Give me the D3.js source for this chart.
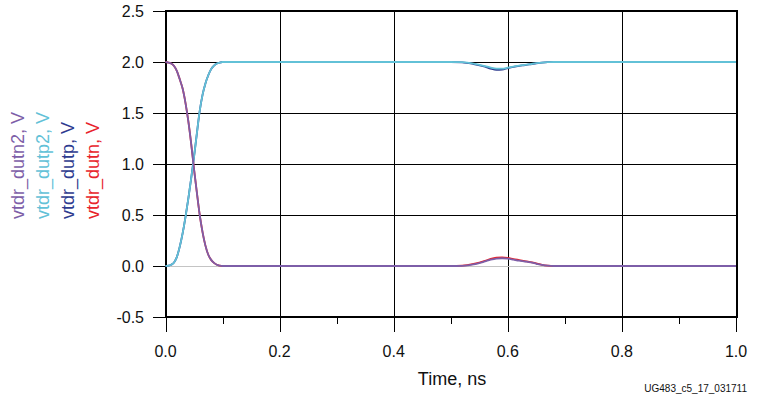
<!DOCTYPE html>
<html><head><meta charset="utf-8">
<script src="https://cdn.jsdelivr.net/npm/d3@7"></script>
<style>body{margin:0;background:#fff}svg{display:block;font-family:"Liberation Sans",Arial,Helvetica,sans-serif}</style>
</head><body><svg id="c" width="758" height="402"></svg>
<script>
const time = [0,0.005,0.01,0.015,0.02,0.025,0.03,0.035,0.04,0.045,0.05,0.055,0.06,0.065,0.07,0.075,0.08,0.085,0.09,0.095,0.1,0.15,0.2,0.3,0.4,0.5,0.52,0.54,0.56,0.57,0.58,0.59,0.6,0.61,0.62,0.63,0.64,0.65,0.66,0.67,0.68,0.7,0.8,0.9,1.0];
const vtdr_dutn2 = [2.0,1.995,1.985,1.96,1.91,1.83,1.74,1.6,1.42,1.2,0.95,0.72,0.5,0.33,0.2,0.11,0.06,0.03,0.012,0.004,0,0,0,0,0,0,0.002,0.015,0.045,0.062,0.073,0.076,0.072,0.062,0.052,0.044,0.035,0.022,0.01,0.003,0,0,0,0,0];
const vtdr_dutp2 = [0,0.003,0.012,0.035,0.09,0.19,0.32,0.48,0.66,0.86,1.07,1.3,1.52,1.68,1.79,1.87,1.93,1.965,1.985,1.995,2.0,2.0,2.0,2.0,2.0,2.0,1.998,1.985,1.96,1.945,1.935,1.935,1.945,1.955,1.965,1.972,1.98,1.988,1.994,1.998,2.0,2.0,2.0,2.0,2.0];
const vtdr_dutp = [0,0.003,0.012,0.035,0.09,0.19,0.32,0.48,0.66,0.86,1.07,1.3,1.52,1.68,1.79,1.87,1.93,1.965,1.985,1.995,2.0,2.0,2.0,2.0,2.0,2.0,1.997,1.98,1.955,1.935,1.922,1.925,1.94,1.953,1.963,1.97,1.978,1.986,1.993,1.998,2.0,2.0,2.0,2.0,2.0];
const vtdr_dutn = [2.0,1.995,1.985,1.96,1.91,1.83,1.74,1.6,1.42,1.2,0.95,0.72,0.5,0.33,0.2,0.11,0.06,0.03,0.012,0.004,0,0,0,0,0,0,0.003,0.02,0.05,0.07,0.082,0.085,0.08,0.068,0.058,0.048,0.038,0.025,0.012,0.004,0,0,0,0,0];
const xTicks = [0,0.2,0.4,0.6,0.8,1.0];
const xMinor = [0.1,0.3,0.5,0.7,0.9];
const yTicks = [-0.5,0,0.5,1.0,1.5,2.0,2.5];
const seriesNames = ["vtdr_dutn2, V","vtdr_dutp2, V","vtdr_dutp, V","vtdr_dutn, V"];
const seriesColors = ["#7d5ea8","#62c1d7","#2e3b8f","#e8232b"];

const svg = d3.select("#c");
const L=165.5, R=736, T=11, B=317;
const x = d3.scaleLinear().domain([0,1]).range([L,R]);
const y = d3.scaleLinear().domain([-0.5,2.5]).range([B,T]);
const px = v => Math.round(v)+0.5;

const grid = svg.append("g").attr("shape-rendering","crispEdges").attr("stroke","#000").attr("stroke-width",1);
grid.selectAll("line.h").data(yTicks).join("line").attr("class","h")
  .attr("x1",L-13).attr("x2",R).attr("y1",d=>px(y(d))).attr("y2",d=>px(y(d)));
grid.selectAll("line.v").data(xTicks).join("line").attr("class","v")
  .attr("x1",d=>px(x(d))).attr("x2",d=>px(x(d))).attr("y1",T).attr("y2",B+15);
grid.selectAll("line.m").data(xMinor).join("line").attr("class","m")
  .attr("x1",d=>px(x(d))).attr("x2",d=>px(x(d))).attr("y1",B).attr("y2",B+7);
// zero line gray inside plot
svg.append("line").attr("shape-rendering","crispEdges").attr("x1",L).attr("x2",R).attr("y1",px(y(0))).attr("y2",px(y(0))).attr("stroke","#c4c4c4").attr("stroke-width",1.5);

// border
svg.append("rect").attr("shape-rendering","crispEdges").attr("x",Math.round(L)).attr("y",T).attr("width",Math.round(R-L)).attr("height",B-T)
  .attr("fill","none").attr("stroke","#000").attr("stroke-width",2.5);

// tick labels
svg.append("g").selectAll("text").data(yTicks).join("text")
  .attr("x",144).attr("y",d=>y(d)).attr("dy","0.36em").attr("text-anchor","end")
  .attr("font-size",16).attr("fill","#111").text(d=>d3.format(".1f")(d).replace("−","-"));
svg.append("g").selectAll("text").data(xTicks).join("text")
  .attr("x",d=>x(d)).attr("y",357).attr("text-anchor","middle")
  .attr("font-size",16).attr("fill","#111").text(d=>d3.format(".1f")(d));

svg.append("text").attr("x",452).attr("y",385).attr("text-anchor","middle")
  .attr("font-size",18).attr("fill","#111").text("Time, ns");
svg.append("text").attr("x",747).attr("y",392).attr("text-anchor","end")
  .attr("font-size",10).attr("fill","#111").text("UG483_c5_17_031711");

// lines
const line = vals => d3.line().x((d,i)=>x(time[i])).y(d=>y(d)).curve(d3.curveMonotoneX)(vals);
const draws = [[vtdr_dutp,2],[vtdr_dutn,3],[vtdr_dutp2,1],[vtdr_dutn2,0]];
svg.append("g").selectAll("path").data(draws).join("path")
  .attr("d",d=>line(d[0])).attr("fill","none")
  .attr("stroke",d=>seriesColors[d[1]]).attr("stroke-width",1.8);

// legend (rotated)
const lx = [24,49,74,99];
svg.append("g").selectAll("text").data(seriesNames).join("text")
  .attr("transform",(d,i)=>`translate(${lx[i]},219) rotate(-90)`)
  .attr("font-size",18).attr("fill",(d,i)=>seriesColors[i]).text(d=>d);
</script></body></html>
